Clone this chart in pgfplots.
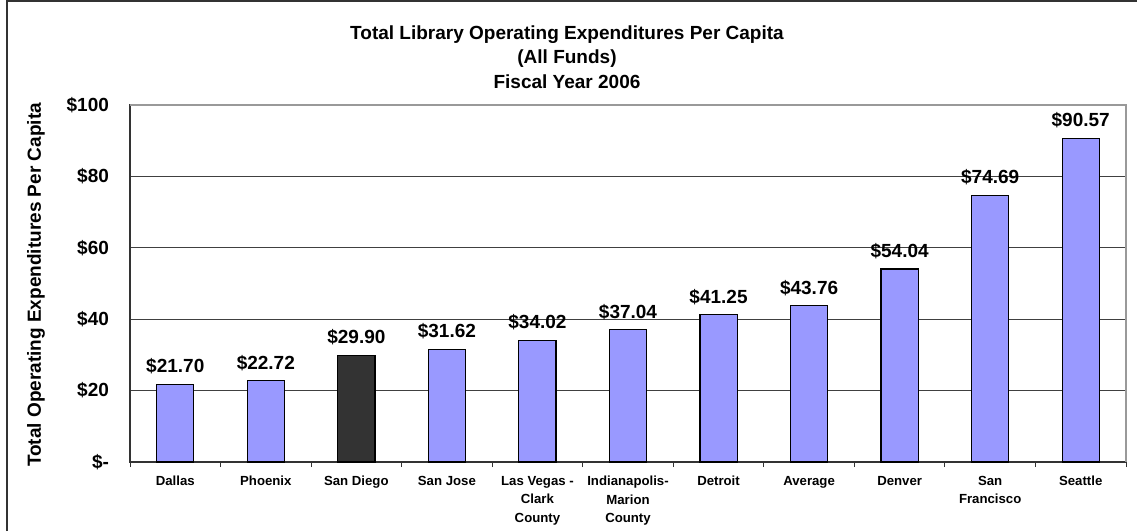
\documentclass[border=0pt]{standalone}
\usepackage{pgfplots}
\pgfplotsset{compat=1.18}
\usepackage{fontspec}
\setmainfont{Liberation Sans}

\definecolor{periwinkle}{HTML}{9999FF}
\definecolor{sandiego}{HTML}{333333}

\begin{document}
\begin{tikzpicture}[x=1pt,y=1pt]
% 1 px of the reference = 0.5pt
\begin{axis}[
    at={(65pt,34.5pt)}, anchor=south west,
    scale only axis,
    width=498pt, height=178.5pt,
    xmin=-0.5, xmax=10.5,
    ymin=0, ymax=100,
    ybar, bar width=0.41, bar shift=0pt,
    xtick={0,...,10},
    xticklabels={Dallas, Phoenix, San Diego, San Jose, {Las Vegas -\\Clark\\County},
        {Indianapolis-\\Marion\\County}, Detroit, Average, Denver, {San\\Francisco}, Seattle},
    minor xtick={-0.5,0.5,...,10.5},
    ytick={0,20,...,100},
    yticklabels={\$-,\$20,\$40,\$60,\$80,\$100},
    tick pos=left, tick align=outside,
    major tick length=0pt, minor tick length=2.5pt,
    minor tick style={black!80, line width=0.5pt},
    ymajorgrids=true,
    grid style={black!75, line width=0.5pt},
    axis line style={black!80, line width=0.6pt},
    xticklabel style={font=\bfseries\fontsize{6.6}{9.3}\selectfont, align=center, anchor=north, yshift=-3.5pt},
    yticklabel style={font=\bfseries\fontsize{9.5}{11}\selectfont, anchor=east, xshift=-7pt},
    nodes near coords={\$\pgfmathprintnumber[fixed,fixed zerofill,precision=2,assume math mode=true]{\pgfplotspointmeta}},
    every node near coord/.append style={font=\bfseries\fontsize{9.5}{11}\selectfont, black, yshift=1.5pt},
    clip=false,
]
% all cities except San Diego
\addplot[draw=black, line width=0.6pt, fill=periwinkle] coordinates {
    (0,21.70) (1,22.72) (3,31.62) (4,34.02) (5,37.04)
    (6,41.25) (7,43.76) (8,54.04) (9,74.69) (10,90.57)
};
% San Diego highlighted
\addplot[draw=black, line width=0.6pt, fill=sandiego] coordinates {
    (2,29.90)
};
% light top and right border of the plot area
\draw[black!40, line width=0.6pt] (rel axis cs:0,1) -- (rel axis cs:1,1) -- (rel axis cs:1,0);
\end{axis}

% title
\node[font=\bfseries\fontsize{9.5}{12.25}\selectfont, align=center] at (283.5pt,237pt)
    {Total Library Operating Expenditures Per Capita\\(All Funds)\\Fiscal Year 2006};
% y label
\node[font=\bfseries\fontsize{9.5}{11}\selectfont, rotate=90] at (18pt,123pt)
    {Total Operating Expenditures Per Capita};
% chart area frame (only top and left edges are in view)
\draw[black!80, line width=0.8pt] (3.5pt,0pt) -- (3.5pt,265pt) -- (568.5pt,265pt);

\pgfresetboundingbox
\path[use as bounding box] (0pt,0pt) rectangle (568.5pt,265.5pt);
\end{tikzpicture}
\end{document}
